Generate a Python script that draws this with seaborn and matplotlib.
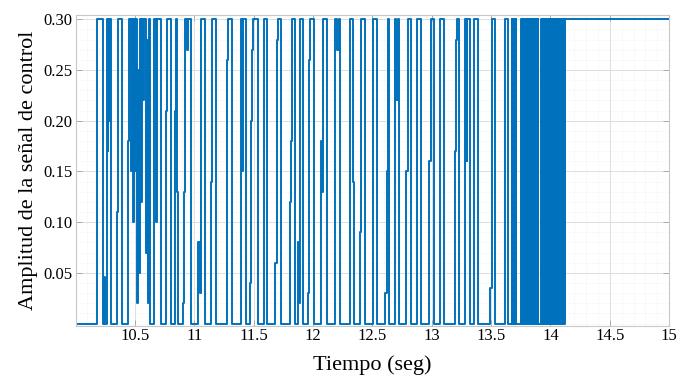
import numpy as np
import pandas as pd
import matplotlib
matplotlib.use("Agg")
import matplotlib.pyplot as plt
from matplotlib.ticker import MultipleLocator, FormatStrFormatter, FuncFormatter
import seaborn as sns

# --- switching instants (s) and the control level held after each instant ---
t_sparse = [10.000, 10.177, 10.231, 10.242, 10.250, 10.266, 10.272, 10.275, 10.287, 10.289,
            10.300, 10.350, 10.360, 10.392, 10.442, 10.449, 10.463, 10.472, 10.483, 10.492,
            10.500, 10.508, 10.517, 10.525, 10.534, 10.542, 10.551, 10.559, 10.570, 10.579,
            10.590, 10.598, 10.610, 10.618, 10.629, 10.663, 10.677, 10.685, 10.716, 10.764,
            10.772, 10.801, 10.834, 10.843, 10.851, 10.860, 10.905, 10.913, 10.922, 10.936,
            10.944, 10.972, 11.034, 11.045, 11.056, 11.093, 11.138, 11.146, 11.180, 11.278,
            11.287, 11.321, 11.394, 11.405, 11.413, 11.433, 11.467, 11.478, 11.489, 11.497,
            11.534, 11.587, 11.615, 11.680, 11.694, 11.708, 11.731, 11.807, 11.818, 11.826,
            11.846, 11.874, 11.885, 11.894, 11.919, 11.958, 11.970, 11.978, 12.012, 12.065,
            12.076, 12.088, 12.116, 12.186, 12.203, 12.217, 12.228, 12.310, 12.335, 12.349,
            12.394, 12.405, 12.439, 12.501, 12.537, 12.543, 12.605, 12.619, 12.630, 12.641,
            12.692, 12.703, 12.712, 12.726, 12.787, 12.796, 12.824, 12.877, 12.908, 12.978,
            12.990, 13.021, 13.068, 13.105, 13.192, 13.203, 13.214, 13.226, 13.282, 13.293,
            13.301, 13.321, 13.360, 13.393, 13.489, 13.506, 13.534, 13.615, 13.643]
u_sparse = [0.000, 0.300, 0.000, 0.046, 0.000, 0.300, 0.170, 0.300, 0.200, 0.300,
            0.000, 0.110, 0.300, 0.000, 0.180, 0.300, 0.150, 0.300, 0.100, 0.300,
            0.150, 0.300, 0.020, 0.250, 0.050, 0.300, 0.120, 0.300, 0.220, 0.300,
            0.070, 0.280, 0.020, 0.300, 0.000, 0.300, 0.100, 0.300, 0.000, 0.210,
            0.300, 0.000, 0.210, 0.300, 0.130, 0.000, 0.020, 0.130, 0.300, 0.270,
            0.300, 0.000, 0.080, 0.030, 0.300, 0.000, 0.140, 0.300, 0.000, 0.260,
            0.300, 0.000, 0.300, 0.150, 0.300, 0.000, 0.040, 0.200, 0.270, 0.300,
            0.000, 0.300, 0.000, 0.060, 0.280, 0.300, 0.000, 0.120, 0.180, 0.300,
            0.000, 0.080, 0.020, 0.300, 0.000, 0.030, 0.260, 0.300, 0.000, 0.180,
            0.130, 0.300, 0.000, 0.300, 0.270, 0.300, 0.000, 0.300, 0.140, 0.000,
            0.090, 0.300, 0.000, 0.300, 0.150, 0.000, 0.030, 0.150, 0.300, 0.000,
            0.300, 0.220, 0.300, 0.000, 0.150, 0.300, 0.000, 0.300, 0.000, 0.160,
            0.300, 0.000, 0.300, 0.000, 0.170, 0.280, 0.300, 0.000, 0.300, 0.160,
            0.300, 0.000, 0.300, 0.000, 0.035, 0.300, 0.000, 0.300, 0.000]

# chattering burst 13.68-14.12 s: instants where u jumps to 0.3 and back to 0
burst_on = [13.677, 13.682, 13.687, 13.692, 13.697, 13.702, 13.707,
            13.755, 13.761, 13.767, 13.773, 13.779, 13.785, 13.791, 13.797, 13.803, 13.809,
            13.815, 13.821, 13.827, 13.833, 13.845,
            13.862, 13.868, 13.874, 13.880, 13.886, 13.892,
            13.924, 13.930, 13.936, 13.942, 13.948, 13.954, 13.960, 13.966, 13.972, 13.978,
            13.984, 13.990, 13.996, 14.002, 14.008, 14.014,
            14.031, 14.045, 14.059, 14.073, 14.087, 14.101, 14.115]
burst_off = [13.680, 13.685, 13.690, 13.695, 13.700, 13.705, 13.713,
             13.759, 13.765, 13.771, 13.777, 13.783, 13.789, 13.795, 13.801, 13.807, 13.813,
             13.819, 13.825, 13.831, 13.840, 13.850,
             13.866, 13.872, 13.878, 13.884, 13.890, 13.896,
             13.928, 13.934, 13.940, 13.946, 13.952, 13.958, 13.964, 13.970, 13.976, 13.982,
             13.988, 13.994, 14.000, 14.006, 14.012, 14.022,
             14.034, 14.048, 14.062, 14.076, 14.090, 14.104, 14.118]
t_final = [14.122, 15.000]
u_final = [0.300, 0.300]
u_high = 0.300

x_ticks = [10.5, 11, 11.5, 12, 12.5, 13, 13.5, 14, 14.5, 15]
y_ticks = [0.05, 0.10, 0.15, 0.20, 0.25, 0.30]
x_label = "Tiempo (seg)"
y_label = "Amplitud de la señal de control"

t_burst, u_burst = [], []
for a, b in zip(burst_on, burst_off):
    t_burst += [a, b]
    u_burst += [u_high, 0.0]

df = pd.DataFrame({"t": t_sparse + t_burst + t_final,
                   "u": u_sparse + u_burst + u_final})

sns.set_theme(style="white")
plt.rcParams["font.family"] = ["Liberation Serif", "DejaVu Serif"]

fig = plt.figure(figsize=(6.78, 3.76), dpi=100)
ax = fig.add_axes([0.1115, 0.134, 0.8755, 0.826])

sns.lineplot(data=df, x="t", y="u", ax=ax, estimator=None, sort=False,
             drawstyle="steps-post", color="#0072BD", linewidth=1.4)

ax.set_xlim(10.0, 15.0)
ax.set_ylim(-0.002, 0.3042)
ax.set_xticks(x_ticks)
ax.set_yticks(y_ticks)
ax.xaxis.set_major_formatter(FuncFormatter(lambda v, p: f"{v:g}"))
ax.yaxis.set_major_formatter(FormatStrFormatter("%.2f"))
ax.xaxis.set_minor_locator(MultipleLocator(0.1))
ax.yaxis.set_minor_locator(MultipleLocator(0.01))

ax.grid(which="major", color="#d9d9d9", linewidth=0.6)
ax.grid(which="minor", color="#ececec", linewidth=0.5, linestyle=(0, (1, 1.5)))
ax.set_axisbelow(True)
for s in ax.spines.values():
    s.set_color("#c8c8c8")
    s.set_linewidth(0.8)

ax.tick_params(axis="both", which="major", direction="in", length=4, width=0.6,
               color="#a0a0a0", labelsize=12, labelcolor="black",
               top=True, right=True, bottom=True, left=True, pad=2)
ax.tick_params(axis="both", which="minor", length=0)

ax.set_xlabel(x_label, fontsize=16, color="black", labelpad=8)
ax.set_ylabel(y_label, fontsize=16, color="black", labelpad=4)

fig.savefig("out.png", dpi=100, facecolor="white")
